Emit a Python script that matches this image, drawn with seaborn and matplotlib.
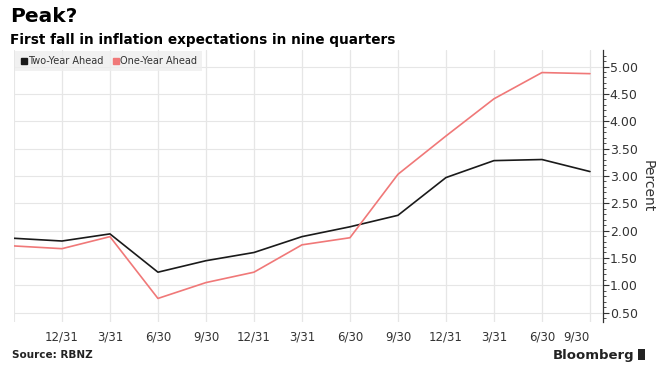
import pandas as pd
import matplotlib.pyplot as plt
import seaborn as sns
from matplotlib.lines import Line2D
from matplotlib.patches import Rectangle

# quarterly survey points, 9/30 start through 9/30 three years later
tick_labels = ['12/31', '3/31', '6/30', '9/30', '12/31', '3/31', '6/30',
               '9/30', '12/31', '3/31', '6/30', '9/30']
two_year = [1.86, 1.81, 1.94, 1.24, 1.45, 1.60, 1.89, 2.07, 2.28, 2.97, 3.28, 3.30, 3.08]
one_year = [1.72, 1.67, 1.89, 0.76, 1.05, 1.24, 1.74, 1.87, 3.03, 3.73, 4.41, 4.89, 4.87]

n = len(two_year)
df = pd.DataFrame({
    'q': list(range(n)) * 2,
    'value': two_year + one_year,
    'series': ['Two-Year Ahead'] * n + ['One-Year Ahead'] * n,
})

sns.set_theme(style='white')
plt.rcParams['font.family'] = ['DejaVu Sans']

colors = {'Two-Year Ahead': '#1a1a1a', 'One-Year Ahead': '#f07878'}

fig = plt.figure(figsize=(6.64, 3.77), dpi=100)
ax = fig.add_axes([0.021, 0.146, 0.887, 0.721])

sns.lineplot(data=df, x='q', y='value', hue='series', palette=colors,
             linewidth=1.2, legend=False, ax=ax)

ax.set_xlim(0, 12.27)
ax.set_ylim(0.33, 5.30)

# grid
ax.set_xticks(range(1, n))
ax.set_xticklabels(tick_labels, fontsize=8.5, color='#333333')
ax.set_yticks([0.5, 1.0, 1.5, 2.0, 2.5, 3.0, 3.5, 4.0, 4.5, 5.0])
ax.set_yticks([v / 10 for v in range(4, 53)], minor=True)
ax.grid(True, which='major', color='#e6e6e6', linewidth=0.8)
ax.set_axisbelow(True)
for x in range(0, n):
    ax.axvline(x, color='#e6e6e6', linewidth=0.8, zorder=0)

ax.yaxis.tick_right()
ax.yaxis.set_label_position('right')
ax.set_yticklabels(['%.2f' % v for v in ax.get_yticks()], fontsize=9, color='#333333')
ax.tick_params(axis='y', which='major', length=4, width=0.8, color='#333333', pad=1, right=True)
ax.tick_params(axis='y', which='minor', length=2, width=0.6, color='#333333', right=True)
ax.tick_params(axis='x', length=0, pad=6)
ax.set_ylabel('Percent', rotation=270, labelpad=12, fontsize=10, color='#333333')
ax.set_xlabel('')

# last label pulled left so it clears the axis
lab = ax.get_xticklabels()[-1]
lab.set_horizontalalignment('right')
lab.set_x(12.27)

for s in ['top', 'left', 'bottom']:
    ax.spines[s].set_visible(False)
ax.spines['right'].set_color('#333333')
ax.spines['right'].set_linewidth(0.9)

# legend box
handles = [Line2D([], [], marker='s', linestyle='', color=colors[k], markersize=5)
           for k in ['Two-Year Ahead', 'One-Year Ahead']]
leg = ax.legend(handles, ['Two-Year Ahead', 'One-Year Ahead'], loc='upper left',
                ncol=2, frameon=True, fontsize=7, handletextpad=0.1,
                columnspacing=0.8, borderpad=0.5, borderaxespad=0.1,
                handlelength=0.8, fancybox=False)
leg.get_frame().set_facecolor('#eeeeee')
leg.get_frame().set_edgecolor('none')
for t in leg.get_texts():
    t.set_color('#333333')

fig.text(0.015, 0.955, 'Peak?', fontsize=14.5, fontweight='bold', va='center', color='black')
fig.text(0.015, 0.895, 'First fall in inflation expectations in nine quarters',
         fontsize=9.8, fontweight='bold', va='center', color='black')
fig.text(0.018, 0.058, 'Source: RBNZ', fontsize=7.5, fontweight='bold', va='center', color='#222222')
fig.text(0.955, 0.058, 'Bloomberg', fontsize=9.5, fontweight='bold', va='center', ha='right', color='#222222')
fig.patches.append(Rectangle((0.961, 0.045), 0.011, 0.028, transform=fig.transFigure,
                             facecolor='#222222', edgecolor='none'))

fig.savefig('out.png', dpi=100)
